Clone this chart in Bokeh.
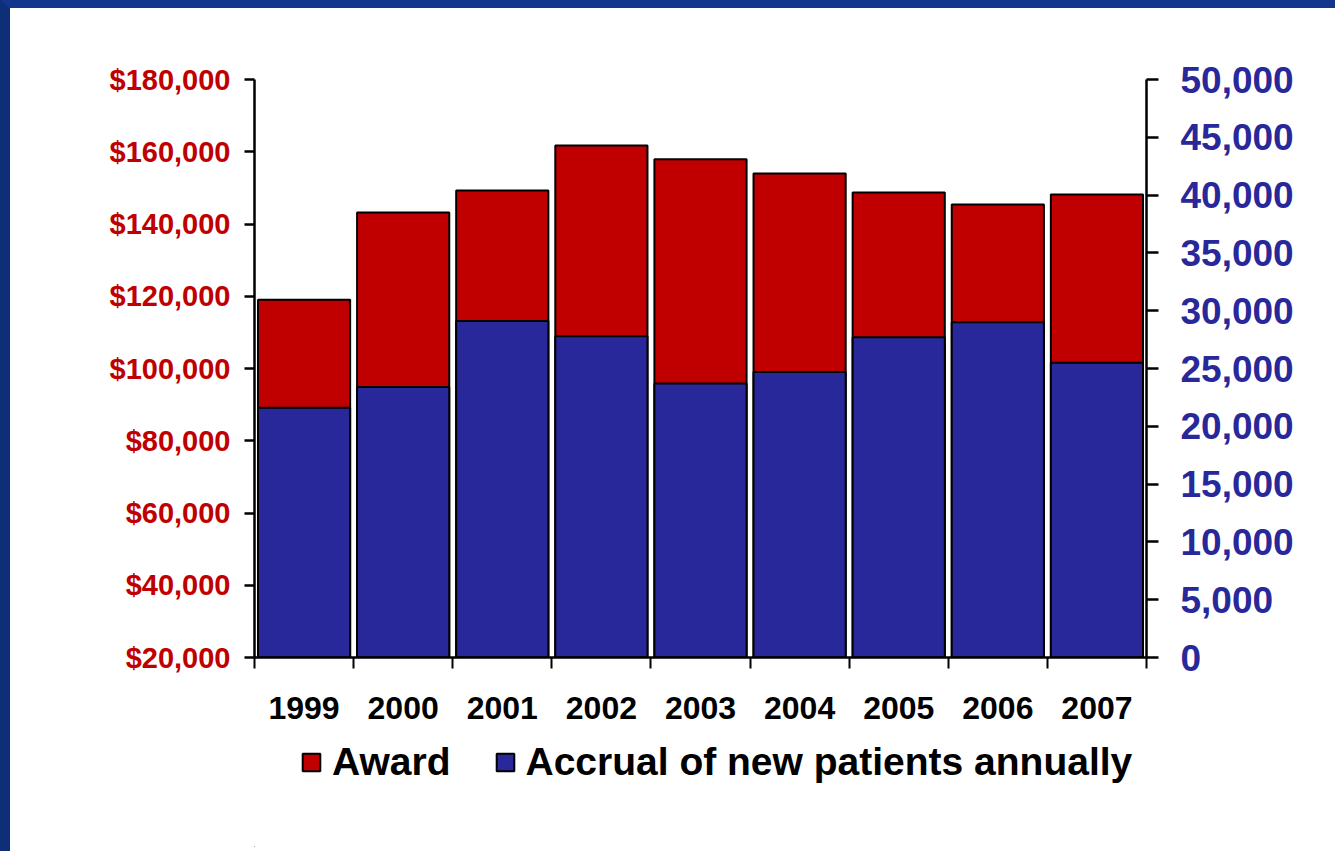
import numpy as np
from bokeh.plotting import figure
from bokeh.layouts import column
from bokeh.models import (Range1d, LinearAxis, FixedTicker, NumeralTickFormatter,
                          Legend, LegendItem, ColumnDataSource)
from bokeh.embed import file_html
from bokeh.resources import INLINE

years = ["1999", "2000", "2001", "2002", "2003", "2004", "2005", "2006", "2007"]
award = [119000, 143200, 149300, 161700, 157900, 154000, 148700, 145400, 148200]
accrual = [21600, 23400, 29100, 27800, 23700, 24700, 27700, 29000, 25500]
left_ticks = [20000, 40000, 60000, 80000, 100000, 120000, 140000, 160000, 180000]
right_ticks = [0, 5000, 10000, 15000, 20000, 25000, 30000, 35000, 40000, 45000, 50000]
series_names = ["Award", "Accrual of new patients annually"]

RED = "#c00000"
BLUE = "#29289a"
FONT = "Liberation Sans"

n = len(years)
xc = np.arange(n) + 0.5
src = ColumnDataSource(dict(x=xc, award=award, accrual=accrual))

p = figure(frame_width=892, frame_height=578, output_backend="svg", toolbar_location=None,
           x_range=Range1d(0, n), y_range=Range1d(left_ticks[0], left_ticks[-1]),
           min_border_left=244, min_border_right=189, min_border_top=71,
           min_border_bottom=80)
p.extra_y_ranges = {"acc": Range1d(right_ticks[0], right_ticks[-1])}
p.grid.visible = False
p.outline_line_color = None
p.background_fill_color = "white"
p.border_fill_color = "white"

p.vbar(x="x", top="award", bottom=left_ticks[0], width=0.93, source=src,
       fill_color=RED, line_color="black", line_width=2)
p.vbar(x="x", top="accrual", bottom=right_ticks[0], width=0.93, source=src,
       fill_color=BLUE, line_color="black", line_width=2, y_range_name="acc")

# x axis
xa = p.xaxis[0]
xa.ticker = FixedTicker(ticks=list(xc), minor_ticks=list(range(n + 1)))
xa.major_label_overrides = {float(v): y for v, y in zip(xc, years)}
xa.major_tick_out = 0
xa.major_tick_in = 0
xa.minor_tick_out = 11
xa.minor_tick_in = 0
xa.minor_tick_line_width = 2
xa.minor_tick_line_color = "black"
xa.axis_line_width = 2.5
xa.axis_line_color = "black"
xa.major_label_text_font = FONT
xa.major_label_text_font_style = "bold"
xa.major_label_text_font_size = "32px"
xa.major_label_text_color = "black"
xa.major_label_standoff = 28

# left axis
ya = p.yaxis[0]
ya.ticker = FixedTicker(ticks=left_ticks)
ya.formatter = NumeralTickFormatter(format="$0,0")
ya.major_tick_out = 10
ya.major_tick_in = 0
ya.minor_tick_out = 0
ya.minor_tick_in = 0
ya.major_tick_line_width = 2.5
ya.axis_line_width = 2.5
ya.major_label_text_font = FONT
ya.major_label_text_font_style = "bold"
ya.major_label_text_font_size = "29px"
ya.major_label_text_color = RED
ya.major_label_standoff = 14

# right axis
ra = LinearAxis(y_range_name="acc", ticker=FixedTicker(ticks=right_ticks),
                formatter=NumeralTickFormatter(format="0,0"))
ra.major_tick_out = 12
ra.major_tick_in = 0
ra.minor_tick_out = 0
ra.minor_tick_in = 0
ra.major_tick_line_width = 2.5
ra.axis_line_width = 2.5
ra.major_label_text_font = FONT
ra.major_label_text_font_style = "bold"
ra.major_label_text_font_size = "37px"
ra.major_label_text_color = BLUE
ra.major_label_standoff = 22
p.add_layout(ra, "right")

# legend strip (separate figure below the chart; its frame aligns with the chart's)
LH = 110
q = figure(width=1325, height=LH, output_backend="svg", toolbar_location=None,
           x_range=Range1d(0, 1), y_range=Range1d(0, 1),
           x_axis_location=None, y_axis_location=None,
           min_border=0)
q.grid.visible = False
q.outline_line_color = None
q.background_fill_color = "white"
q.border_fill_color = "white"
offscreen = ColumnDataSource(dict(x=[-10], top=[-10]))
g1 = q.vbar(x="x", top="top", width=0.1, source=offscreen,
            fill_color=RED, line_color="black", line_width=2)
g2 = q.vbar(x="x", top="top", width=0.1, source=offscreen,
            fill_color=BLUE, line_color="black", line_width=2)
legend = Legend(items=[LegendItem(label=series_names[0], renderers=[g1]),
                       LegendItem(label=series_names[1], renderers=[g2])],
                orientation="horizontal", location=(46, LH - 47),
                label_text_font=FONT, label_text_font_style="bold",
                label_text_font_size="39px", label_text_color="black",
                glyph_width=22, glyph_height=22, label_standoff=10, spacing=43,
                padding=0, margin=0, border_line_color=None,
                background_fill_alpha=0)
q.add_layout(legend, "center")

layout = column(p, q, spacing=0)

html = file_html(layout, INLINE)
style = ("<style>html{background:#ffffff;margin:0;padding:0;}"
         "body{margin:0 !important;padding:0 !important;overflow:hidden;"
         "background:#ffffff !important;border-top:8px solid #12368c;"
         "border-left:10px solid #0f2e78;min-height:851px;box-sizing:border-box;}</style>")
html = html.replace("</head>", style + "</head>", 1)
open("out.html", "w").write(html)
